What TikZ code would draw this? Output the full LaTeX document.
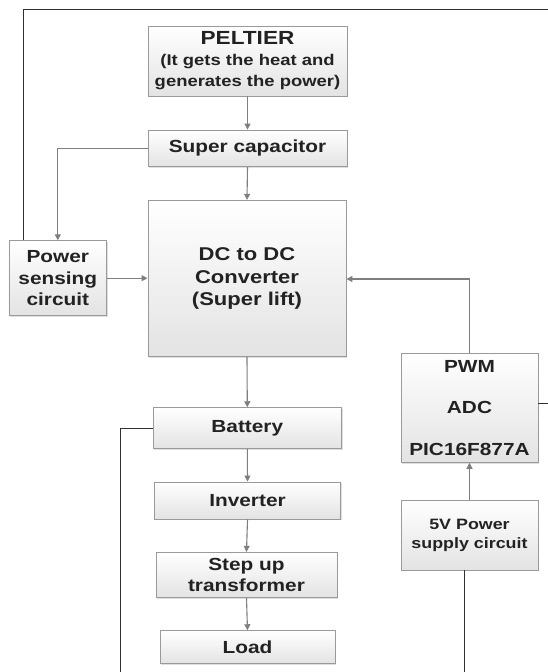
\documentclass[tikz,border=0pt]{standalone}
\usepackage{fontspec}
\setmainfont{Liberation Sans}[FakeStretch=1.19]
\usetikzlibrary{arrows.meta,shadows}
\definecolor{txt}{HTML}{222222}
\definecolor{edge}{HTML}{9A9A9A}
\definecolor{arr}{HTML}{7F7F7F}
\definecolor{frm}{HTML}{303030}
\tikzset{
  blk/.style={draw=edge, line width=0.9pt, top color=white, bottom color=black!11,
    drop shadow={shadow xshift=1.2pt, shadow yshift=-1.2pt, opacity=0.25},
    inner sep=0pt, align=center, text=txt,
    font=\bfseries\fontsize{17.5}{21.5}\selectfont},
  flow/.style={draw=arr, line width=1.1pt, -{Triangle[length=6pt,width=6pt]}},
  wire/.style={draw=frm, line width=0.9pt}
}
\begin{document}
\begin{tikzpicture}[x=1pt,y=-1pt]
\useasboundingbox (0,0) rectangle (548,672);
\fill[white] (0,0) rectangle (548,672);

\node[blk, minimum width=199pt, minimum height=70pt] (pel) at (247.5,61)
  {{\fontsize{19}{19}\selectfont PELTIER}\\[-1pt]
   {\fontsize{15.5}{21.5}\selectfont (It gets the heat and}\\[0pt]
   {\fontsize{15.5}{21.5}\selectfont generates the power)}};
\node[blk, minimum width=199pt, minimum height=36.5pt] (cap) at (247.5,148.3) {Super capacitor};
\node[blk, minimum width=198pt, minimum height=156.4pt, font=\bfseries\fontsize{18.5}{22.5}\selectfont] (dc) at (247,278.5) {DC to DC\\Converter\\(Super lift)};
\node[blk, minimum width=97.7pt, minimum height=75pt] (sen) at (57.8,278.2) {Power\\sensing\\circuit};
\node[blk, minimum width=137pt, minimum height=109pt] (pwm) at (469.5,407.8) {PWM\\[20pt]ADC\\[20pt]PIC16F877A};
\node[blk, minimum width=188.5pt, minimum height=41pt] (bat) at (247.3,428.2) {Battery};
\node[blk, minimum width=186pt, minimum height=37pt] (inv) at (247.5,500.5) {Inverter};
\node[blk, minimum width=181pt, minimum height=45.4pt] (stp) at (246.5,575) {Step up\\transformer};
\node[blk, minimum width=175pt, minimum height=33pt] (lod) at (247.5,647.2) {Load};
\node[blk, minimum width=137pt, minimum height=69.3pt, font=\bfseries\fontsize{15}{19}\selectfont] (fiv) at (469.5,535.3) {5V Power\\supply circuit};

\coordinate (tr) at (548,9);
\coordinate (tl) at (23,9);
\coordinate (cb) at (57.8,148.3);
\coordinate (pu) at (469.5,279);
\coordinate (bl) at (120.6,428.2);
\coordinate (bb) at (120.6,672);
\coordinate (fb) at (464,672);
\coordinate (pr) at (548,403.3);

\draw[flow] (pel.south) -- (cap.north);
\draw[flow] (cap.south) -- (dc.north);
\draw[flow] (cap.west) -- (cb) -- (sen.north);
\draw[flow] (sen.east) -- (sen.east -| dc.west);
\draw[flow] (pwm.north) -- (pu) -- (pu -| dc.east);
\draw[flow] (dc.south) -- (bat.north);
\draw[flow] (bat.south) -- (inv.north);
\draw[flow] (inv.south) -- (stp.north);
\draw[flow] (stp.south) -- (lod.north);
\draw[flow] (fiv.north) -- (pwm.south);

\draw[wire] (tr) -- (tl) -- (tl |- sen.north);
\draw[wire] (bat.west) -- (bl) -- (bb);
\draw[wire] (fiv.south -| fb) -- (fb);
\draw[wire] (pr -| pwm.east) -- (pr);
\end{tikzpicture}
\end{document}
